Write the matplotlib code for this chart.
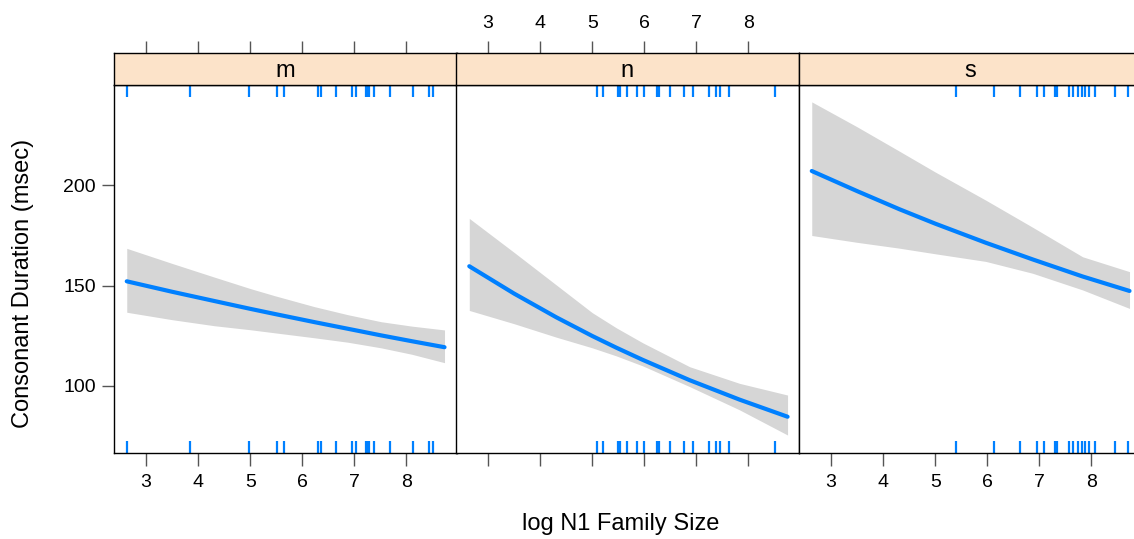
import numpy as np
import matplotlib
matplotlib.use("Agg")
import matplotlib.pyplot as plt

plt.rcParams['font.family'] = ['Liberation Sans', 'DejaVu Sans']

# panels (consonant)
panels = ['m', 'n', 's']

# effect curves: x = log N1 family size
fit_x = {
    'm': [2.63, 3.5, 4.31, 5.0, 5.46, 6.23, 6.87, 7.51, 8.1, 8.73],
    'n': [2.64, 3.5, 4.31, 5.0, 5.46, 5.97, 6.87, 7.83, 8.75],
    's': [2.63, 3.5, 4.31, 5.0, 5.97, 6.87, 7.83, 8.73],
}
fit_y = {
    'm': [152.1, 146.9, 142.3, 138.4, 135.9, 131.8, 128.5, 125.2, 122.3, 119.3],
    'n': [159.6, 146.0, 134.2, 124.9, 119.1, 113.0, 102.9, 93.2, 84.7],
    's': [207.0, 197.0, 188.0, 180.8, 171.3, 163.0, 154.5, 147.3],
}
lower_y = {
    'm': [136.7, 133.0, 130.0, 128.0, 126.5, 124.0, 121.8, 119.0, 115.8, 111.6],
    'n': [137.6, 131.0, 124.3, 119.0, 115.0, 110.0, 99.7, 88.1, 75.6],
    's': [174.9, 171.5, 168.6, 165.8, 162.0, 156.1, 147.8, 138.6],
}
upper_y = {
    'm': [168.5, 161.0, 154.2, 148.5, 145.0, 139.5, 135.5, 132.0, 129.8, 127.9],
    'n': [183.4, 166.5, 150.3, 136.5, 129.0, 121.5, 109.6, 101.3, 95.5],
    's': [241.4, 229.0, 216.9, 206.5, 192.5, 179.0, 164.3, 156.9],
}

# rug of observed family sizes
rug_x = {
    'm': [2.63, 3.85, 4.97, 5.51, 5.64, 6.31, 6.35, 6.65, 6.96, 7.03, 7.22,
          7.25, 7.28, 7.38, 7.69, 8.13, 8.43, 8.51],
    'n': [5.09, 5.21, 5.49, 5.53, 5.67, 5.86, 5.99, 6.24, 6.28, 6.50, 6.76,
          6.93, 7.25, 7.37, 7.46, 7.62, 8.51],
    's': [5.40, 6.13, 6.63, 6.96, 7.08, 7.30, 7.34, 7.57, 7.65, 7.75, 7.81,
          7.88, 7.96, 8.07, 8.46, 8.71],
}

xticks = [3, 4, 5, 6, 7, 8]
yticks = [100, 150, 200]

W, H = 1134, 539
fig = plt.figure(figsize=(W / 100, H / 100), dpi=100)

line_col = '#0080ff'
band_col = '#d6d6d6'
strip_col = '#fce3c9'
tick_col = '#555555'

pan_left = [114, 456, 799]
pan_w = 342.5
pan_top, pan_bot = 85, 452.7
strip_top = 52.7
tick_fs = 14

for i, p in enumerate(panels):
    ax = fig.add_axes([pan_left[i] / W, 1 - pan_bot / H, pan_w / W, (pan_bot - pan_top) / H])
    ax.fill_between(fit_x[p], lower_y[p], upper_y[p], color=band_col, lw=0)
    ax.plot(fit_x[p], fit_y[p], color=line_col, lw=3, solid_capstyle='round',
            solid_joinstyle='round')
    tr = ax.get_xaxis_transform()
    ax.vlines(rug_x[p], 0, 0.032, color=line_col, lw=1.6, transform=tr)
    ax.vlines(rug_x[p], 0.968, 1, color=line_col, lw=1.6, transform=tr)
    ax.set_xlim(2.385, 8.96)
    ax.set_ylim(66.8, 249.8)
    for s in ax.spines.values():
        s.set_linewidth(1.0)
    ax.set_xticks(xticks)
    ax.tick_params(axis='x', direction='out', length=9, width=1, color=tick_col,
                   labelsize=tick_fs, pad=6, labelbottom=(p != 'n'))
    if i == 0:
        ax.set_yticks(yticks)
        ax.tick_params(axis='y', direction='out', length=9, width=1, color=tick_col,
                       labelsize=tick_fs, pad=4)
    else:
        ax.set_yticks([])

    # strip
    st = fig.add_axes([pan_left[i] / W, 1 - pan_top / H, pan_w / W, (pan_top - strip_top) / H])
    st.set_facecolor(strip_col)
    st.set_xlim(2.385, 8.96)
    st.set_yticks([])
    st.text(0.5, 0.42, p, ha='center', va='center', fontsize=17, transform=st.transAxes)
    if p == 's':
        st.set_xticks([])
    else:
        st.set_xticks(xticks)
        st.xaxis.tick_top()
        st.tick_params(axis='x', direction='out', length=9, width=1, color=tick_col,
                       labelsize=tick_fs, pad=6, labeltop=(p == 'n'), labelbottom=False)
    for s in st.spines.values():
        s.set_linewidth(1.0)

fig.text(621 / W, 1 - 524 / H, 'log N1 Family Size', ha='center', va='center', fontsize=17)
fig.text(23 / W, 1 - 283 / H, 'Consonant Duration (msec)', ha='center', va='center',
         rotation=90, fontsize=17)

fig.savefig('out.png', dpi=100)
